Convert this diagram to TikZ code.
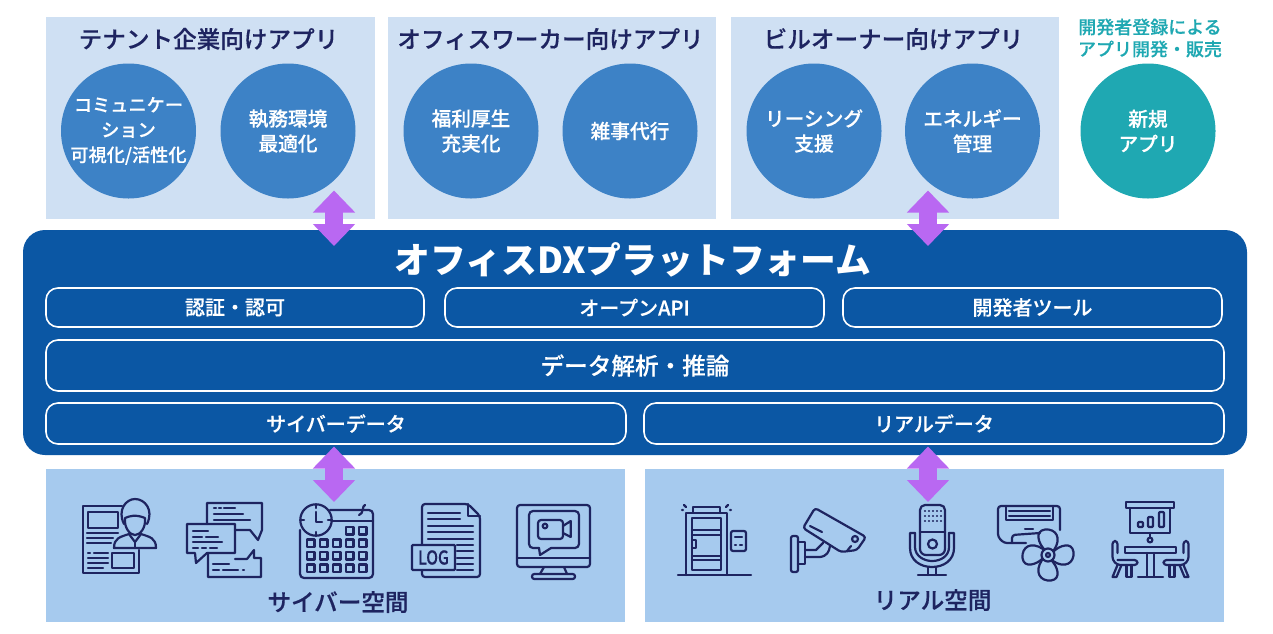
\documentclass[tikz,border=0pt]{standalone}
\usepackage{fontspec}
\setmainfont{Noto Sans CJK JP}
\newfontfamily\medfont[FakeBold=0.35]{Noto Sans CJK JP Medium}
\usetikzlibrary{arrows.meta}

\definecolor{panelpale}{HTML}{CFE0F3}
\definecolor{panelblue}{HTML}{A6CAEE}
\definecolor{appblue}{HTML}{3D82C6}
\definecolor{platblue}{HTML}{0B57A4}
\definecolor{linkpurple}{HTML}{B968F2}
\definecolor{newteal}{HTML}{1FA8B2}
\definecolor{inknavy}{HTML}{1E2460}

\tikzset{
  panel/.style={fill=#1, inner sep=0pt, outer sep=0pt},
  appcircle/.style={circle, fill=#1, text=white, minimum size=135pt, inner sep=-6pt, align=center,
    font=\fontsize{19.7}{25}\medfont},
  paneltitle/.style={text=inknavy, inner sep=0pt, font=\fontsize{23.6}{28}\medfont},
  layerbar/.style={draw=white, line width=1.6pt, rounded corners=12pt, text=white, inner sep=0pt,
    font=\fontsize{#1}{#1}\medfont},
  linkarrow/.style={draw=linkpurple, line width=18pt,
    {Triangle[length=22pt,width=41pt]}-{Triangle[length=22pt,width=41pt]}},
  icon/.style={draw=inknavy, line width=2.2pt, line join=round, line cap=round}
}

\begin{document}
\begin{tikzpicture}[x=1pt,y=-1pt]
  \useasboundingbox (0,0) rectangle (1273,633);

  % upper panels
  \node[panel=panelpale, minimum width=329pt, minimum height=202pt] at (210.5,118) (tenant) {};
  \node[panel=panelpale, minimum width=328pt, minimum height=202pt] at (552,118) (worker) {};
  \node[panel=panelpale, minimum width=328pt, minimum height=202pt] at (895,118) (owner) {};
  \node[paneltitle] at (208.5,39) (tenantTitle) {テナント企業向けアプリ};
  \node[paneltitle] at (550.5,39) (workerTitle) {オフィスワーカー向けアプリ};
  \node[paneltitle] at (893.5,39) (ownerTitle) {ビルオーナー向けアプリ};

  \node[appcircle=appblue, font=\fontsize{18.2}{25}\medfont] at (128.5,131) (comm) {コミュニケー\\ション\\可視化/活性化};
  \node[appcircle=appblue] at (288,131) (office) {執務環境\\最適化};
  \node[appcircle=appblue] at (471,131) (welfare) {福利厚生\\充実化};
  \node[appcircle=appblue] at (630,131) (errand) {雑事代行};
  \node[appcircle=appblue] at (814,131) (leasing) {リーシング\\支援};
  \node[appcircle=appblue] at (972.5,131) (energy) {エネルギー\\管理};
  \node[appcircle=newteal] at (1148,131) (newapp) {新規\\アプリ};
  \node[text=newteal, align=center, inner sep=0pt, font=\fontsize{18}{22}\medfont] at (1150,38) (devCaption) {開発者登録による\\アプリ開発・販売};

  % platform
  \node[panel=platblue, rounded corners=22pt, minimum width=1224pt, minimum height=225pt] at (635,342.5) (platform) {};
  \node[text=white, inner sep=0pt, font=\fontsize{35.8}{36}\selectfont\bfseries] at (633,259.5) (platTitle) {オフィスDXプラットフォーム};
  \node[layerbar=20, minimum width=378pt, minimum height=39pt] at (235,307.5) (auth) {認証・認可};
  \node[layerbar=20, minimum width=379pt, minimum height=39pt] at (634.5,307.5) (openapi) {オープンAPI};
  \node[layerbar=20, minimum width=379pt, minimum height=39pt] at (1032.5,307.5) (devtool) {開発者ツール};
  \node[layerbar=23.6, minimum width=1178pt, minimum height=51pt] at (635,365.5) (analysis) {データ解析・推論};
  \node[layerbar=20, minimum width=580pt, minimum height=41pt] at (336,423.5) (cyberdata) {サイバーデータ};
  \node[layerbar=20, minimum width=580pt, minimum height=41pt] at (934,423.5) (realdata) {リアルデータ};

  % lower panels
  \node[panel=panelblue, minimum width=579pt, minimum height=153pt] at (335.5,545.5) (cyber) {};
  \node[panel=panelblue, minimum width=579pt, minimum height=153pt] at (934.5,545.5) (real) {};
  \node[paneltitle] at (338,602) (cyberTitle) {サイバー空間};
  \node[paneltitle] at (932.5,600) (realTitle) {リアル空間};

  % links
  \coordinate (linkA) at (334,190.5);
  \coordinate (linkB) at (334,246);
  \coordinate (linkC) at (928,190.5);
  \coordinate (linkD) at (928,246);
  \coordinate (linkE) at (334,446.5);
  \coordinate (linkF) at (334,502);
  \coordinate (linkG) at (928,446.5);
  \coordinate (linkH) at (928,502);
  \draw[linkarrow] (linkA) -- (linkB);
  \draw[linkarrow] (linkC) -- (linkD);
  \draw[linkarrow] (linkE) -- (linkF);
  \draw[linkarrow] (linkG) -- (linkH);

  % person and document
  \draw[icon] (122,506) -- (83,506) -- (83,573) -- (139,573) -- (139,550);
  \draw[icon] (88,512) rectangle (118,528);
  \draw[icon] (87,533) -- (118,533) (87,538) -- (113,538) (87,543) -- (111,543);
  \draw[icon] (88,553) -- (90,553) (94,553) -- (108,553) (88,558) -- (108,558) (88,563) -- (108,563) (88,568) -- (103,568);
  \draw[icon] (112,553) rectangle (134,568);
  \draw[icon] (124,524) .. controls (117,510) and (126,499) .. (135,499) .. controls (145,499) and (154,510) .. (147,524);
  \draw[icon] (125,518) .. controls (130,516) and (135,514) .. (145,518) .. controls (146,528) and (140,535) .. (135,535) .. controls (130,535) and (124,528) .. (125,518);
  \draw[icon] (114,548) .. controls (114,538) and (120,537) .. (129,534) -- (135,542) -- (141,534) .. controls (150,537) and (156,538) .. (156,548) -- cycle;
  \draw[icon] (135,542) -- (135,548);

  % chat bubbles
  \draw[icon] (207,524) -- (207,503) -- (262,503) -- (262,530) -- (258,540) -- (250,530) -- (235,530);
  \draw[icon] (187,524) -- (235,524) -- (235,553) -- (207,553) -- (196,563) -- (195,553) -- (187,553) -- cycle;
  \draw[icon] (208,553) -- (208,577) -- (261,577) -- (261,558) -- (254,558) -- (254,550) -- (247,559) -- (235,559);
  \draw[icon] (214,508) -- (216,508) (219,508) -- (221,508) (224,508) -- (235,508) (214,514) -- (243,514) (214,520) -- (250,520);
  \draw[icon] (193,531) -- (208,531) (193,537) -- (202,537) (206,537) -- (218,537) (193,542) -- (222,542) (193,548) -- (198,548) (202,548) -- (206,548) (210,548) -- (217,548);
  \draw[icon] (213,564) -- (229,564) (213,570) -- (219,570) (223,570) -- (238,570) (243,570) -- (244,570);

  % calendar
  \draw[icon, rounded corners=4pt] (300,530) -- (300,578) -- (373,578) -- (373,510) -- (330,510);
  \draw[icon] (330,521) -- (373,521);
  \draw[icon] (365,505) .. controls (362,505) and (364,514) .. (359,515);
  \draw[icon, fill=panelblue] (316,520) circle (15.7pt);
  \draw[icon] (316,512) -- (316,522) -- (322,522);
  \foreach \a in {0,90,180,270} {
    \draw[icon, shift={(316,520)}, rotate=\a] (12,0) -- (15.7,0);
  }
  \foreach \cx in {310.7,323.7,336.7,349.7,362.7} {
    \foreach \cy in {543.3,555.7,568.3} {
      \draw[icon] (\cx-3.8,\cy-3.8) rectangle (\cx+3.8,\cy+3.8);
    }
  }
  \foreach \cx in {349.7,362.7} {
    \draw[icon] (\cx-3.8,530.7-3.8) rectangle (\cx+3.8,530.7+3.8);
  }

  % log file
  \draw[icon, rounded corners=3pt] (422,545) -- (422,504) -- (468,504) -- (480,516) -- (480,577) -- (422,577) -- (422,570);
  \draw[icon] (468,504) -- (468,516) -- (480,516);
  \draw[icon] (428,513) -- (460,513) (428,519) -- (460,519) (428,526) -- (473,526) (428,532) -- (473,532) (428,539) -- (473,539);
  \draw[icon] (457,545) -- (473,545) (457,551) -- (473,551) (457,558) -- (473,558) (457,564) -- (473,564) (457,570) -- (473,570);
  \node[draw=inknavy, line width=2.2pt, rounded corners=1pt, fill=panelblue, text=inknavy, inner sep=0pt,
    xscale=.82, transform shape, minimum width=52.5pt, minimum height=25pt, font=\fontsize{19}{19}\medfont] at (433.5,557.5) (logBox) {LOG};

  % monitor
  \draw[icon, rounded corners=3pt] (517,505) rectangle (590,567);
  \draw[icon] (517,558) -- (590,558);
  \draw[icon] (544,567) -- (540,574) (564,567) -- (567,574);
  \draw[icon, rounded corners=2.3pt] (532,574) rectangle (575,579);
  \draw[icon, rounded corners=4pt] (551,548) -- (579,548) -- (579,511) -- (529,511) -- (529,548) -- (539,548);
  \draw[icon] (539,548) -- (540,555) -- (551,548);
  \draw[icon, rounded corners=3pt] (538,520) rectangle (563,539);
  \draw[icon] (563,526) -- (570.7,521) -- (570.7,537) -- (563,533);
  \draw[icon] (545,526) circle (2.3pt);

  % gate
  \draw[icon] (678,575) -- (751,575);
  \draw[icon] (686,575) -- (686,513) -- (727,513) -- (727,575);
  \draw[icon] (692,518) rectangle (721,570);
  \draw[icon] (692,530) -- (721,530) (692,535) -- (721,535) (692,556) -- (721,556) (692,560) -- (721,560);
  \draw[icon] (693,507) rectangle (720,513);
  \draw[icon] (692,540) rectangle (696,548);
  \draw[icon] (684,505) -- (686,507) (682,510) -- (683,510) (728,505) -- (726,507) (730,510) -- (731,510);
  \draw[icon, rounded corners=2pt] (731,531) rectangle (746,551);
  \draw[icon] (735,537) -- (742,537) (735,545) -- (736,545) (740,545) -- (742,545);

  % camera
  \draw[icon, rounded corners=2pt] (791,536) rectangle (798,572);
  \draw[icon] (798,542) -- (805,542) -- (805,564) -- (798,564);
  \draw[icon] (805,550) -- (816,550) -- (823,543);
  \draw[icon] (805,557) -- (820,557) .. controls (827,556) and (829,552) .. (830,546);
  \draw[icon, rounded corners=3pt] (815,508) -- (866,537) -- (857,550) -- (841,552) -- (803,528) -- cycle;
  \draw[icon] (810,526) -- (822,532);
  \draw[icon] (847,551) -- (851,546);
  \draw[icon] (855,539) circle (3pt);

  % microphone
  \draw[icon, rounded corners=5pt] (920,532) -- (920,505) -- (945,505) -- (945,532);
  \draw[icon] (920,532) -- (945,532);
  \draw[icon, rounded corners=6pt] (920,532) -- (920,555) -- (945,555) -- (945,532);
  \draw[icon] (932.5,544) circle (4.5pt);
  \foreach \cx in {925,929,933,937,941} {
    \foreach \cy in {511,516,521} {
      \draw[icon] (\cx,\cy) -- (\cx+0.1,\cy);
    }
  }
  \draw[icon] (915,533) -- (910,533) -- (910,548) .. controls (910,560) and (920,567) .. (932,567) .. controls (944,567) and (954,560) .. (954,548) -- (954,533) -- (949,533);
  \draw[icon] (915,533) -- (915,547) .. controls (915,556) and (924,561) .. (932,561) .. controls (941,561) and (949,556) .. (949,547) -- (949,533);
  \draw[icon] (928,567) -- (928,575) (936,567) -- (936,575) (918,575) -- (946,575);

  % air conditioner with fan
  \draw[icon, rounded corners=3pt] (1060,530) -- (1060,506) -- (998,506) -- (998,537) -- (1004,543) -- (1026,543);
  \draw[icon] (1006,506) -- (1006,520) -- (1053,520) -- (1053,506);
  \draw[icon] (1009,511) -- (1050,511) (1009,516) -- (1050,516);
  \draw[icon] (1025,529) -- (1033,529);
  \draw[icon, rounded corners=3pt] (1012,543) -- (1012,535) -- (1040,533);
  \foreach \a in {0,90,180,270} {
    \draw[icon, shift={(1048,555)}, rotate=\a] (-4,-6) .. controls (-9,-11) and (-14,-24) .. (-3,-25.5) .. controls (8,-26.5) and (14,-17) .. (6,-5);
  }
  \draw[icon] (1048,555) circle (6.5pt);
  \draw[icon] (1048,555) circle (2pt);

  % meeting room
  \draw[icon] (1126,502) rectangle (1174,508);
  \draw[icon] (1130,508) -- (1130,533) -- (1170,533) -- (1170,508);
  \draw[icon, rounded corners=1pt] (1138,522) rectangle (1143,527);
  \draw[icon, rounded corners=1pt] (1148,517) rectangle (1153,527);
  \draw[icon, rounded corners=1pt] (1159,512) rectangle (1164,527);
  \draw[icon] (1150,533) -- (1150,537);
  \draw[icon] (1150,540) circle (2.4pt);
  \draw[icon] (1125,547) rectangle (1176,553);
  \draw[icon] (1147,553) -- (1147,577) (1154,553) -- (1154,577) (1138,577) -- (1163,577);
  \foreach \s in {1,-1} {
    \begin{scope}[shift={(1150.5,0)}, xscale=\s]
      \draw[icon, rounded corners=3pt] (-33,553) -- (-33,541) -- (-38,541) -- (-38,560) -- (-33,565) -- (-13,565) -- (-13,560) -- (-33,560);
      \draw[icon] (-33,565) -- (-38,577) -- (-34,577) -- (-29,565);
      \draw[icon] (-24,565) -- (-24,577) -- (-19,577) -- (-19,565);
    \end{scope}
  }
\end{tikzpicture}
\end{document}
